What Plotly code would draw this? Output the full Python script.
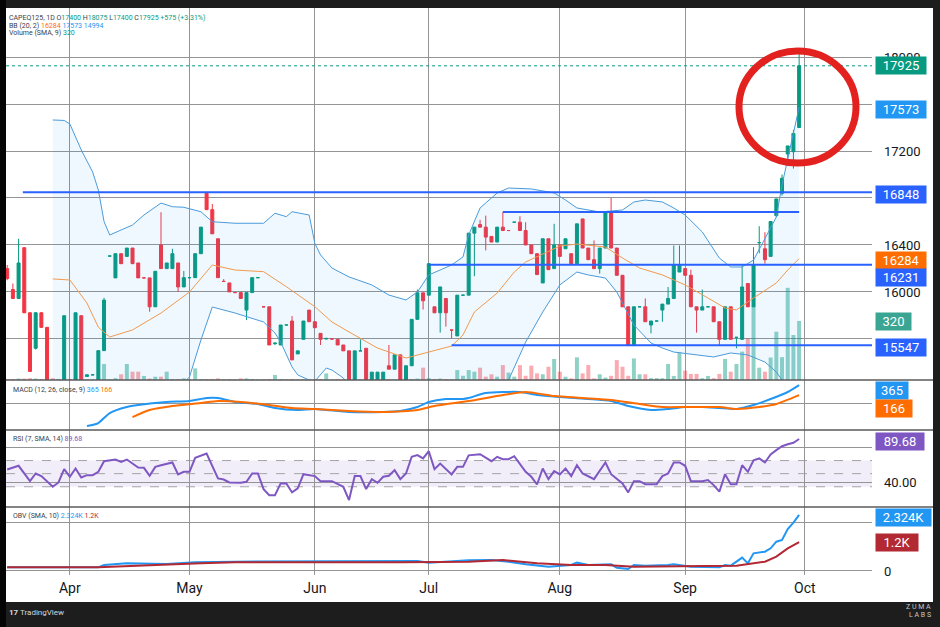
import pandas as pd
import plotly.graph_objects as go

FONT = "Roboto, DejaVu Sans, sans-serif"
UP = "#089981"
DOWN = "#F23645"
GRID = "#949494"
TXT = "#131722"

# ---------------- categories (trading days) ----------------
holidays = ["2024-03-29", "2024-04-01", "2024-05-01"]
trade_days = [d for d in pd.bdate_range("2024-03-14", "2024-09-30")
              if d.strftime("%Y-%m-%d") not in holidays]

month_ticks = ["2024-04-02", "2024-05-02", "2024-06-03", "2024-07-01",
               "2024-08-01", "2024-09-02", "2024-10-01"]
month_labels = ["Apr", "May", "Jun", "Jul", "Aug", "Sep", "Oct"]

# ---------------- OHLC + volume ----------------
opens = [16199, 16021, 15945, 16377, 15823, 15521, 15823, 15699, 15180, 15140,
         15160, 15200, 15150, 15798, 15281, 15295, 15200, 15501, 16306, 16120,
         16326, 16303, 16374, 16247, 16120, 16120, 15874, 16400, 16199, 16199,
         16247, 16043, 16122, 16122, 16326, 16840, 16701, 16453, 16090, 16077,
         15995, 15995, 15846, 15995, 16122, 15874, 15874, 15560, 15549, 15719,
         15753, 15473, 15597, 15846, 15747, 15648, 15600, 15600, 15597, 15549,
         15499, 15180, 15499, 15521, 15230, 15230, 15230, 15372, 15343, 15465,
         15200, 15372, 15767, 15993, 15973, 15874, 15823, 15945, 15676, 15626,
         15973, 15973, 16501, 16574, 16552, 16473, 16425, 16552, 16523, 16594,
         16594, 16523, 16400, 16326, 16077, 16453, 16199, 16400, 16368, 16326,
         16241, 16622, 16374, 16275, 16199, 16374, 16673, 16374, 16142, 15874,
         15544, 15874, 15874, 15719, 15753, 15846, 15897, 15945, 16170, 16199,
         16142, 15874, 15846, 15874, 15874, 15747, 15597, 15874, 15614, 15597,
         16072, 15874, 16420, 16368, 16303, 16650, 16840, 17174, 17194, 17400]
highs = [16230, 16072, 16453, 16380, 15830, 15830, 15830, 15700, 15200, 15180,
         15800, 15220, 15823, 15800, 15300, 15295, 15501, 15950, 16306, 16326,
         16326, 16374, 16374, 16247, 16120, 16120, 16176, 16679, 16247, 16368,
         16247, 16179, 16122, 16326, 16552, 16848, 16749, 16453, 16110, 16077,
         15995, 15995, 15995, 16122, 16122, 15874, 15874, 15570, 15719, 15719,
         15795, 15499, 15753, 15846, 15747, 15648, 15610, 15600, 15597, 15549,
         15499, 15499, 15597, 15521, 15318, 15318, 15318, 15549, 15465, 15465,
         15372, 15767, 16021, 15993, 16241, 15874, 16043, 15945, 15676, 15973,
         15973, 16501, 16552, 16614, 16650, 16473, 16552, 16680, 16523, 16594,
         16645, 16594, 16400, 16326, 16453, 16453, 16580, 16400, 16453, 16326,
         16580, 16622, 16374, 16439, 16374, 16673, 16800, 16374, 16142, 15874,
         15874, 15874, 15945, 15753, 15753, 15897, 16043, 16396, 16396, 16199,
         16190, 15874, 16021, 15874, 15874, 15747, 15874, 15874, 15614, 16227,
         16072, 16382, 16560, 16509, 16600, 16792, 17000, 17243, 17380, 18075]
lows = [16100, 15940, 15945, 15820, 15320, 15510, 15695, 15150, 15120, 15100,
        15150, 15120, 15140, 15150, 15281, 15295, 15190, 15501, 16306, 16120,
        16241, 16303, 16241, 16120, 16120, 15832, 15874, 16199, 16199, 16199,
        16001, 16043, 16122, 16122, 16326, 16701, 16495, 16122, 16090, 16001,
        15995, 15945, 15761, 15995, 16122, 15874, 15549, 15549, 15549, 15719,
        15422, 15473, 15597, 15747, 15696, 15549, 15597, 15600, 15549, 15499,
        15150, 15150, 15499, 15150, 15230, 15230, 15230, 15343, 15343, 15150,
        15180, 15372, 15767, 15851, 15973, 15823, 15654, 15705, 15606, 15626,
        15973, 15973, 16134, 16552, 16354, 16425, 16425, 16523, 16523, 16594,
        16523, 16400, 16326, 16148, 16077, 16190, 16199, 16303, 16368, 16241,
        16241, 16374, 16275, 16199, 16156, 16374, 16374, 16142, 15874, 15544,
        15544, 15874, 15747, 15648, 15753, 15747, 15897, 15945, 16170, 16142,
        15874, 15654, 15846, 15874, 15747, 15549, 15597, 15597, 15521, 15597,
        15874, 15874, 16330, 16241, 16303, 16636, 16820, 17100, 17050, 17400]
closes = [16114, 15945, 16247, 15823, 15324, 15823, 15699, 15180, 15140, 15160,
          15798, 15150, 15823, 15150, 15295, 15295, 15501, 15931, 16306, 16326,
          16241, 16374, 16241, 16120, 16120, 15874, 16176, 16199, 16247, 16326,
          16043, 16122, 16122, 16326, 16552, 16701, 16495, 16122, 16090, 16001,
          15995, 15945, 15995, 16122, 16122, 15874, 15549, 15565, 15719, 15719,
          15422, 15499, 15753, 15747, 15696, 15597, 15605, 15600, 15549, 15499,
          15180, 15499, 15499, 15180, 15318, 15318, 15318, 15343, 15465, 15180,
          15372, 15767, 15993, 15925, 16241, 15823, 16043, 15823, 15676, 15973,
          15973, 16501, 16552, 16552, 16467, 16425, 16552, 16523, 16523, 16594,
          16523, 16400, 16326, 16148, 16453, 16190, 16400, 16303, 16453, 16241,
          16580, 16374, 16275, 16199, 16374, 16673, 16374, 16142, 15874, 15544,
          15874, 15874, 15747, 15753, 15753, 15897, 15945, 16227, 16227, 16142,
          15874, 15846, 15874, 15874, 15747, 15597, 15874, 15597, 15614, 16043,
          15874, 16227, 16420, 16275, 16600, 16792, 16968, 17243, 17350, 17925]
volumes = [5, 5, 8, 8, 10, 8, 5, 18, 10, 6,
           8, 6, 8, 6, 3, 3, 10, 87, 3, 10,
           31, 87, 45, 45, 22, 8, 18, 18, 45, 5,
           5, 9, 3, 63, 5, 5, 5, 9, 3, 5,
           3, 9, 9, 5, 3, 3, 5, 27, 5, 3,
           5, 3, 5, 3, 3, 5, 36, 3, 5, 3,
           5, 5, 3, 5, 3, 3, 3, 5, 3, 5,
           3, 5, 8, 67, 10, 5, 8, 5, 3, 54,
           23, 54, 45, 67, 18, 31, 18, 81, 40, 18,
           81, 23, 78, 36, 31, 72, 114, 45, 18, 9,
           123, 36, 81, 9, 31, 13, 23, 108, 72, 23,
           117, 31, 31, 10, 10, 10, 87, 22, 150, 51,
           33, 33, 10, 22, 10, 33, 114, 45, 87, 154,
           226, 400, 67, 45, 122, 262, 124, 500, 244, 320]

# ---------------- Bollinger bands (bar index, price) ----------------
bb_upper_idx = [8, 10, 11, 13, 15, 16, 17, 18, 20, 22, 24, 27, 29, 31, 34, 36, 40, 45, 47, 49,
                50, 53, 54, 55, 57, 60, 64, 67, 70, 72, 74, 78, 80, 81, 83, 86, 88, 92, 96, 98,
                100, 104, 108, 110, 112, 115, 117, 119, 122, 125, 127, 129, 131, 133, 135, 136,
                137, 138, 139]
bb_upper = [17464, 17460, 17430, 17209, 17021, 16868, 16600, 16485, 16528, 16570, 16655, 16757,
            16726, 16721, 16683, 16598, 16585, 16585, 16670, 16641, 16683, 16655, 16414, 16315,
            16204, 16128, 16060, 15974, 15932, 16000, 16145, 16230, 16298, 16485, 16715, 16843,
            16885, 16877, 16843, 16783, 16715, 16681, 16698, 16766, 16783, 16766, 16715, 16655,
            16511, 16289, 16213, 16213, 16272, 16460, 16638, 16911, 17123, 17353, 17573]
bb_mid_idx = [8, 11, 14, 16, 18, 22, 27, 32, 36, 40, 45, 49, 54, 57, 60, 65, 70, 74, 78, 80,
              82, 86, 89, 91, 97, 100, 105, 108, 111, 115, 119, 123, 126, 128, 131, 135, 137, 139]
bb_mid = [16111, 16102, 15906, 15700, 15617, 15677, 15821, 16000, 16230, 16187, 16173, 16045,
          15875, 15745, 15660, 15523, 15438, 15489, 15540, 15634, 15830, 15991, 16170, 16255,
          16391, 16408, 16383, 16289, 16204, 16145, 16060, 15949, 15864, 15847, 15949, 16077,
          16187, 16284]
bb_low_idx = [8, 13, 16, 18, 22, 27, 31, 32, 34, 36, 40, 45, 47, 48, 50, 51, 53, 54, 56, 57,
              59, 60, 64, 67, 70, 74, 78, 80, 82, 86, 88, 91, 94, 97, 100, 102, 105, 107, 110,
              113, 115, 117, 121, 124, 127, 130, 133, 135, 136, 137, 138, 139]
bb_low = [14758, 14733, 14530, 14749, 14785, 14885, 15230, 15277, 15591, 15872, 15821, 15745,
          15651, 15574, 15362, 15294, 15251, 15240, 15353, 15336, 15268, 15192, 15020, 14986,
          14944, 14833, 14850, 14970, 15060, 15139, 15250, 15574, 15830, 16060, 16170, 16145,
          16119, 16000, 15719, 15566, 15523, 15489, 15464, 15447, 15481, 15464, 15404, 15319,
          15251, 15180, 15100, 14994]

# ---------------- MACD (bar index, value) ----------------
macd_points = [(14, -448), (16, -388), (18, -189), (21, -70), (23, -30), (28, 30), (32, 50),
               (35, 109), (37, 109), (40, 30), (44, -10), (47, -90), (51, -129), (54, -109),
               (60, -169), (66, -169), (69, -149), (72, -70), (74, 30), (77, 90), (80, 90),
               (81, 109), (84, 209), (90, 229), (93, 169), (97, 129), (102, 90), (106, 50),
               (109, -50), (113, -129), (116, -109), (119, -70), (122, -70), (125, -90),
               (128, -109), (131, -30), (134, 90), (137, 229), (139, 365)]
signal_points = [(22, -269), (25, -129), (29, -50), (34, 10), (37, 50), (41, 30), (46, -30),
                 (50, -90), (54, -109), (60, -149), (66, -169), (72, -129), (75, -50), (81, 50),
                 (87, 169), (91, 229), (96, 149), (101, 109), (106, 70), (111, -10), (115, -70),
                 (119, -70), (125, -70), (128, -109), (132, -70), (135, -10), (139, 166)]

# ---------------- RSI (bar index, value) ----------------
rsi_points = [(0, 54.8), (2, 59.0), (4, 41.4), (5, 50.2), (6, 47.2), (8, 35.0), (9, 39.9),
              (10, 55.2), (11, 46.4), (12, 55.9), (13, 45.6), (14, 48.3), (15, 48.3), (16, 52.1),
              (17, 64.3), (19, 66.2), (20, 63.5), (21, 66.2), (23, 57.1), (24, 56.7), (25, 47.5),
              (26, 57.8), (27, 59.7), (29, 62.8), (30, 49.1), (31, 52.1), (32, 52.1), (33, 68.1),
              (35, 73.1), (37, 44.5), (38, 43.3), (39, 39.9), (41, 39.5), (42, 40.7), (43, 50.2),
              (44, 50.2), (45, 32.3), (46, 25.4), (47, 25.4), (48, 38.8), (49, 38.8), (50, 28.5),
              (51, 33.1), (52, 49.4), (54, 47.2), (55, 41.4), (57, 41.4), (59, 35.0), (60, 19.7),
              (61, 47.2), (62, 47.2), (63, 32.3), (64, 43.7), (65, 39.5), (66, 46.4), (67, 47.5),
              (68, 54.0), (69, 43.7), (70, 50.2), (71, 69.3), (72, 71.2), (73, 67.4), (74, 75.7),
              (75, 55.2), (76, 61.6), (78, 49.1), (79, 57.8), (80, 57.8), (81, 71.0), (83, 72.3),
              (85, 64.3), (86, 69.3), (87, 66.6), (88, 66.6), (89, 70.0), (91, 52.1), (92, 46.4),
              (93, 37.6), (94, 55.9), (95, 43.7), (96, 52.9), (97, 49.1), (98, 55.9), (99, 47.2),
              (100, 59.7), (101, 50.2), (103, 43.7), (105, 62.8), (106, 49.4), (108, 38.8),
              (109, 28.5), (110, 41.4), (111, 41.4), (112, 38.0), (114, 38.0), (115, 47.2),
              (116, 50.2), (117, 62.8), (118, 62.8), (119, 59.0), (120, 41.4), (122, 41.4),
              (123, 42.6), (124, 36.9), (125, 29.3), (126, 49.4), (127, 38.0), (128, 38.0),
              (129, 59.7), (130, 52.1), (131, 65.4), (132, 67.4), (133, 62.8), (134, 71.9),
              (135, 76.9), (136, 81.4), (137, 83.7), (138, 85.3), (139, 89.68)]

# ---------------- OBV (bar index, value) ----------------
obv_points = [(0, 152), (16, 152), (17, 248), (21, 317), (28, 290), (33, 359), (40, 386),
              (69, 386), (72, 414), (74, 345), (81, 440), (85, 455), (88, 386), (91, 276),
              (95, 179), (99, 248), (100, 345), (102, 248), (106, 276), (107, 138), (109, 83),
              (110, 248), (112, 221), (116, 248), (117, 276), (120, 179), (125, 152), (126, 248),
              (127, 221), (129, 552), (130, 317), (131, 731), (133, 800), (134, 938), (135, 1214),
              (136, 1283), (137, 1739), (138, 2001), (139, 2324)]
obv_sma_points = [(0, 152), (16, 152), (34, 317), (40, 359), (69, 359), (81, 386), (87, 455),
                  (93, 317), (99, 248), (105, 248), (110, 179), (116, 179), (122, 207), (128, 221),
                  (130, 276), (133, 386), (135, 593), (137, 938), (139, 1200)]

# ---------------- geometry helpers (pixel -> paper) ----------------
L, R, T, B = 6, 872, 8, 575
PW, PH = R - L, B - T


def px(x):
    return (x - L) / PW


def py(y):
    return (B - y) / PH


def d(idx_list):
    return [trade_days[i] for i in idx_list]


def unzip(points):
    return d([p[0] for p in points]), [p[1] for p in points]


dom_price = [py(380), 1.0]
dom_macd = [py(430), py(380)]
dom_rsi = [py(507), py(430)]
dom_obv = [0.0, py(507)]

fig = go.Figure()

# volume (base axis, drawn beneath price)
vol_colors = ["rgba(8,153,129,0.45)" if c >= o else "rgba(242,54,69,0.42)"
              for o, c in zip(opens, closes)]
fig.add_trace(go.Bar(x=trade_days, y=volumes, marker=dict(color=vol_colors, line=dict(width=0)),
                     width=0.7 * 86400000, xaxis="x", yaxis="y", hoverinfo="skip"))

# Bollinger band fill + lines
fig.add_trace(go.Scatter(x=d(bb_upper_idx) + d(bb_low_idx)[::-1], y=bb_upper + bb_low[::-1],
                         fill="toself", fillcolor="rgba(33,150,243,0.07)", line=dict(width=0),
                         mode="lines", xaxis="x", yaxis="y2", hoverinfo="skip"))
fig.add_trace(go.Scatter(x=d(bb_upper_idx), y=bb_upper, mode="lines",
                         line=dict(color="#4A9BDB", width=1), xaxis="x", yaxis="y2"))
fig.add_trace(go.Scatter(x=d(bb_low_idx), y=bb_low, mode="lines",
                         line=dict(color="#4A9BDB", width=1), xaxis="x", yaxis="y2"))
fig.add_trace(go.Scatter(x=d(bb_mid_idx), y=bb_mid, mode="lines",
                         line=dict(color="#F29A4E", width=1), xaxis="x", yaxis="y2"))

# candles
fig.add_trace(go.Candlestick(x=trade_days, open=opens, high=highs, low=lows, close=closes,
                             increasing=dict(line=dict(color=UP, width=1), fillcolor=UP),
                             decreasing=dict(line=dict(color=DOWN, width=1), fillcolor=DOWN),
                             whiskerwidth=0, xaxis="x", yaxis="y2", hoverinfo="skip"))

# MACD
mx, my = unzip(macd_points)
sx, sy = unzip(signal_points)
fig.add_trace(go.Scatter(x=mx, y=my, mode="lines",
                         line=dict(color="#2196F3", width=2, shape="spline", smoothing=0.6),
                         xaxis="x2", yaxis="y3"))
fig.add_trace(go.Scatter(x=sx, y=sy, mode="lines",
                         line=dict(color="#FF6D00", width=2, shape="spline", smoothing=0.6),
                         xaxis="x2", yaxis="y3"))

# RSI
rx, ry = unzip(rsi_points)
fig.add_trace(go.Scatter(x=rx, y=ry, mode="lines", line=dict(color="#7E57C2", width=2),
                         xaxis="x3", yaxis="y4"))

# OBV
ox, oy = unzip(obv_points)
ox2, oy2 = unzip(obv_sma_points)
fig.add_trace(go.Scatter(x=ox, y=oy, mode="lines", line=dict(color="#2196F3", width=2),
                         xaxis="x4", yaxis="y5"))
fig.add_trace(go.Scatter(x=ox2, y=oy2, mode="lines", line=dict(color="#B22833", width=2),
                         xaxis="x4", yaxis="y5"))

# ---------------- axes ----------------
x_range = ["2024-03-13 19:00", "2024-10-16 19:00"]
xcommon = dict(type="date", range=x_range,
               rangebreaks=[dict(bounds=["sat", "mon"]), dict(values=holidays)],
               tickmode="array", tickvals=month_ticks, ticktext=month_labels,
               showgrid=True, gridcolor=GRID, gridwidth=1, zeroline=False, showline=False,
               ticks="", domain=[0, 1])

price_ticks = [15600, 16000, 16400, 16800, 17200, 17600, 18000]
price_ticktext = ["", "16000", "16400", "", "17200", "", "18000"]

ycommon = dict(side="right", showgrid=True, gridcolor=GRID, gridwidth=1, zeroline=False,
               showline=False, ticks="", tickfont=dict(size=13, color=TXT, family=FONT),
               ticklabelstandoff=11, fixedrange=True)

fig.update_layout(
    width=940, height=627,
    margin=dict(l=L, r=940 - R, t=T, b=627 - B),
    paper_bgcolor="#1d1d1d", plot_bgcolor="white",
    showlegend=False, boxgap=0.25,
    font=dict(family=FONT, color=TXT),
    xaxis=dict(xcommon, anchor="y", showticklabels=False, rangeslider=dict(visible=False)),
    xaxis2=dict(xcommon, anchor="y3", matches="x", showticklabels=False),
    xaxis3=dict(xcommon, anchor="y4", matches="x", showticklabels=False),
    xaxis4=dict(xcommon, anchor="y5", matches="x", showticklabels=True,
                tickfont=dict(size=14, color=TXT, family=FONT), ticklabelstandoff=3),
    yaxis=dict(domain=dom_price, range=[0, 2018], visible=False, anchor="x", fixedrange=True),
    yaxis2=dict(ycommon, overlaying="y", anchor="x", range=[15251, 18417],
                tickmode="array", tickvals=price_ticks, ticktext=price_ticktext),
    yaxis3=dict(ycommon, domain=dom_macd, anchor="x2", range=[-527, 468],
                tickmode="array", tickvals=[0], ticktext=[""]),
    yaxis4=dict(ycommon, domain=dom_rsi, anchor="x3", range=[11.8, 100],
                tickmode="array", tickvals=[40, 80], ticktext=["40.00", ""]),
    yaxis5=dict(ycommon, domain=dom_obv, anchor="x4", range=[-166, 2650],
                tickmode="array", tickvals=[0, 2000], ticktext=["0", ""]),
)

# ---------------- shapes ----------------
shapes = []
# white chart card
shapes.append(dict(type="rect", xref="paper", yref="paper", x0=px(6), x1=px(933),
                   y0=py(602), y1=py(8), fillcolor="white", line=dict(width=0), layer="below"))
# left black strip
shapes.append(dict(type="rect", xref="paper", yref="paper", x0=px(0), x1=px(6),
                   y0=py(627), y1=py(0), fillcolor="#050505", line=dict(width=0), layer="below"))
# RSI band
shapes.append(dict(type="rect", xref="paper", yref="y4", x0=0, x1=1, y0=35, y1=65,
                   fillcolor="rgba(126,87,194,0.10)", line=dict(width=0), layer="below"))
for lv in [65, 50, 35]:
    shapes.append(dict(type="line", xref="paper", yref="y4", x0=0, x1=1, y0=lv, y1=lv,
                       line=dict(color="#a3a3a8", width=1, dash="dash"), layer="below"))
# panel separators
for yy in [380, 430, 507]:
    shapes.append(dict(type="line", xref="paper", yref="paper", x0=px(6), x1=px(933),
                       y0=py(yy), y1=py(yy), line=dict(color="#5a5a5a", width=1.5), layer="above"))
# last price dotted line
shapes.append(dict(type="line", xref="paper", yref="y2", x0=0, x1=1, y0=17925, y1=17925,
                   line=dict(color=UP, width=1, dash="dot"), layer="above"))
# drawn horizontal lines
hl_color = "#2962FF"
shapes.append(dict(type="line", xref="x", yref="y2", x0=trade_days[3] - pd.Timedelta(hours=6),
                   x1=x_range[1], y0=16848, y1=16848, line=dict(color=hl_color, width=2), layer="above"))
shapes.append(dict(type="line", xref="x", yref="y2", x0=trade_days[87], x1=trade_days[139],
                   y0=16680, y1=16680, line=dict(color=hl_color, width=2), layer="above"))
shapes.append(dict(type="line", xref="x", yref="y2", x0=trade_days[74], x1=x_range[1],
                   y0=16231, y1=16231, line=dict(color=hl_color, width=2), layer="above"))
shapes.append(dict(type="line", xref="x", yref="y2", x0=trade_days[78], x1=x_range[1],
                   y0=15547, y1=15547, line=dict(color=hl_color, width=2), layer="above"))
# red circle highlight
shapes.append(dict(type="circle", xref="paper", yref="paper", x0=px(739), x1=px(856),
                   y0=py(163), y1=py(51), line=dict(color="#E3211F", width=7), layer="above"))
fig.update_layout(shapes=shapes)

# ---------------- annotations ----------------
ann = []


def box(text, yref, y, color, w, yshift=0):
    return dict(xref="paper", x=px(875), xanchor="left", yref=yref, y=y, yanchor="middle",
                text=text, showarrow=False, bgcolor=color, width=w - 2, height=15, borderpad=1,
                align="center", yshift=yshift, font=dict(color="white", size=13, family=FONT))


ann += [
    box("17925", "y2", 17925, UP, 50),
    box("17573", "y2", 17573, "#2196F3", 50, -2),
    box("16848", "y2", 16848, hl_color, 50, -2),
    box("16284", "y2", 16284, "#FF6D00", 50, -2),
    box("16231", "y2", 16231, hl_color, 50, -13),
    box("320", "y", 320, "#3AA592", 35),
    box("15547", "y2", 15547, hl_color, 50, -2),
    box("365", "y3", 365, "#2196F3", 32, -5),
    box("166", "y3", 166, "#FF6D00", 36, -13),
    box("89.68", "y4", 89.68, "#7E57C2", 48, -2),
    box("2.324K", "y5", 2324, "#2196F3", 55, -3),
    box("1.2K", "y5", 1200, "#B22833", 42),
]


def g(t, c):
    return '<span style="color:%s">%s</span>' % (c, t)


legend_lines = [
    (7, 18.3, "CAPEQ125, 1D O" + g("17400", UP) + " H" + g("18075", UP) + " L" + g("17400", UP)
     + " C" + g("17925", UP) + " " + g("+575 (+3.31%)", UP)),
    (7, 25.7, "BB (20, 2) " + g("16284", "#FF6D00") + " " + g("17573", "#2196F3") + " "
     + g("14994", "#2196F3")),
    (7, 32.7, "Volume (SMA, 9) " + g("320", UP)),
    (11, 390, "MACD (12, 26, close, 9) " + g("365", "#2196F3") + " " + g("166", "#FF6D00")),
    (11, 439, "RSI (7, SMA, 14) " + g("89.68", "#7E57C2")),
    (11, 515.5, "OBV (SMA, 10) " + g("2.324K", "#2196F3") + " " + g("1.2K", "#B22833")),
]
for xx, yy, t in legend_lines:
    ann.append(dict(xref="paper", yref="paper", x=px(xx), y=py(yy), xanchor="left", yanchor="middle",
                    text=t, showarrow=False, font=dict(size=7, color="#3a3e48", family=FONT)))

# footer
ann.append(dict(xref="paper", yref="paper", x=px(7), y=py(612), xanchor="left", yanchor="middle",
                text="<b>17</b> TradingView", showarrow=False,
                font=dict(size=8, color="#d8d8d8", family=FONT)))
ann.append(dict(xref="paper", yref="paper", x=px(933), y=py(607), xanchor="right", yanchor="middle",
                text="Z U M A", showarrow=False, font=dict(size=7, color="#c8c8c8", family=FONT)))
ann.append(dict(xref="paper", yref="paper", x=px(933), y=py(615), xanchor="right", yanchor="middle",
                text="L A B S", showarrow=False, font=dict(size=7, color="#c8c8c8", family=FONT)))

fig.update_layout(annotations=ann)

fig.write_html("out.html", config={"displayModeBar": False},
               post_script="document.body.style.margin='0';document.body.style.overflow='hidden';")
